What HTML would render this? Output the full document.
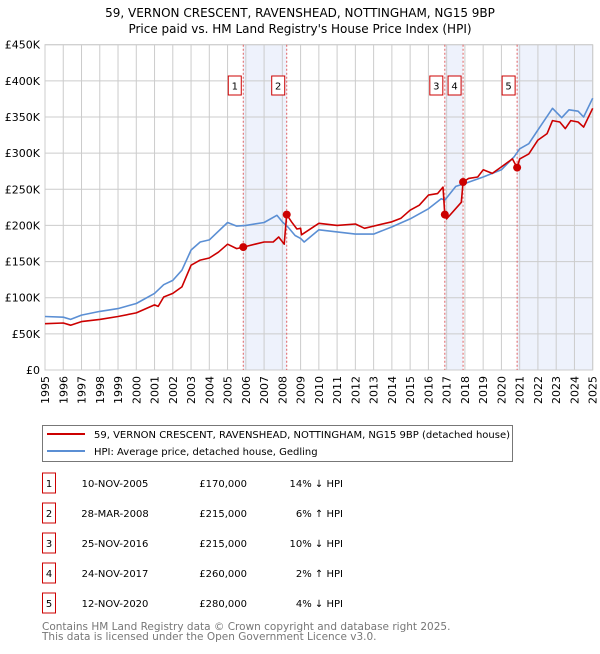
<!DOCTYPE html>
<html><head><meta charset="utf-8"><style>
body{margin:0;background:#fff;font-family:"DejaVu Sans","Liberation Sans",sans-serif;}
svg text{font-family:"DejaVu Sans","Liberation Sans",sans-serif;}
</style></head><body>
<svg id="c" width="600" height="650" xmlns="http://www.w3.org/2000/svg">
<text x="300" y="17" text-anchor="middle" font-size="12">59, VERNON CRESCENT, RAVENSHEAD, NOTTINGHAM, NG15 9BP</text>
<text x="300" y="33" text-anchor="middle" font-size="12">Price paid vs. HM Land Registry's House Price Index (HPI)</text>
<g id="plot"></g>
<g>
<rect x="42.5" y="425.5" width="470" height="36" fill="#fff" stroke="#777"/>
<line x1="47" y1="434" x2="85" y2="434" stroke="#cc0000" stroke-width="2"/>
<text x="94" y="438" font-size="10">59, VERNON CRESCENT, RAVENSHEAD, NOTTINGHAM, NG15 9BP (detached house)</text>
<line x1="47" y1="451" x2="85" y2="451" stroke="#5b8fd4" stroke-width="2"/>
<text x="94" y="455" font-size="10">HPI: Average price, detached house, Gedling</text>
</g>
<g id="table" font-size="10"></g>
<text x="42" y="630" font-size="10.5" fill="#777">Contains HM Land Registry data © Crown copyright and database right 2025.</text>
<text x="42" y="640" font-size="10.5" fill="#777">This data is licensed under the Open Government Licence v3.0.</text>
</svg>
<script>
const hpiYears=[1995,1996,1996.4,1997,1998,1999,2000,2001,2001.5,2002,2002.5,2003,2003.5,2004,2005,2005.5,2006,2007,2007.7,2008,2008.3,2008.7,2009,2009.2,2010,2011,2012,2013,2014,2015,2016,2016.7,2016.9,2017.5,2018,2019,2020,2020.7,2021,2021.5,2022,2022.8,2023.3,2023.7,2024.2,2024.5,2025];
const hpiValues=[74,73,70,76,81,85,92,106,118,124,138,166,177,180,204,199,200,204,214,205,198,186,182,177,194,191,188,188,198,209,223,237,235,254,258,267,277,295,306,313,332,362,349,360,358,350,376];
const redYears=[1995,1996,1996.4,1997,1998,1999,2000,2001,2001.2,2001.5,2002,2002.5,2003,2003.5,2004,2004.5,2005,2005.5,2005.86,2006.5,2007,2007.5,2007.8,2008.1,2008.24,2008.5,2008.8,2009,2009.05,2010,2011,2012,2012.5,2013,2014,2014.5,2015,2015.5,2016,2016.5,2016.8,2016.9,2017,2017.8,2017.9,2018.2,2018.7,2019,2019.5,2020,2020.6,2020.86,2021,2021.5,2022,2022.5,2022.8,2023.2,2023.5,2023.8,2024.2,2024.5,2025];
const redValues=[64,65,62,67,70,74,79,90,88,101,106,115,145,152,155,163,174,168,170,174,177,177,184,174,215,205,195,196,187,203,200,202,196,199,205,210,221,228,242,244,253,215,209,232,260,265,267,277,272,281,292,280,292,299,318,327,345,343,334,345,343,336,362];
const saleLabels=["1","2","3","4","5"];
const saleYears=[2005.86,2008.24,2016.9,2017.9,2020.86];
const salePrices=[170,215,215,260,280];
const saleDates=["10-NOV-2005","28-MAR-2008","25-NOV-2016","24-NOV-2017","12-NOV-2020"];
const salePriceText=["£170,000","£215,000","£215,000","£260,000","£280,000"];
const saleHpiText=["14% ↓ HPI","6% ↑ HPI","10% ↓ HPI","2% ↑ HPI","4% ↓ HPI"];
const yTicks=[0,50,100,150,200,250,300,350,400,450];
const yTickLabels=["£0","£50K","£100K","£150K","£200K","£250K","£300K","£350K","£400K","£450K"];
const xTicks=[1995,1996,1997,1998,1999,2000,2001,2002,2003,2004,2005,2006,2007,2008,2009,2010,2011,2012,2013,2014,2015,2016,2017,2018,2019,2020,2021,2022,2023,2024,2025];

const NS="http://www.w3.org/2000/svg";
const X0=45,X1=592.7,Y0=370,Y1=44.7;
const xs=y=>X0+(y-1995)/30*(X1-X0);
const ys=v=>Y0-v/450*(Y0-Y1);
const plot=document.getElementById('plot');
function mk(tag,attrs,parent){const e=document.createElementNS(NS,tag);for(const k in attrs)e.setAttribute(k,attrs[k]);(parent||plot).appendChild(e);return e;}

// shading
const shades=[[0,1],[2,3],[4,null]];
shades.forEach((s,i)=>{
  const a=xs(saleYears[s[0]]),b=s[1]===null?X1:xs(saleYears[s[1]]);
  const r=mk('rect',{x:a,y:Y1,width:b-a,height:Y0-Y1,fill:'#eef2fc'});
  
  
});
// grid
yTicks.forEach((t,i)=>{
  const l=mk('line',{x1:X0,x2:X1,y1:ys(t),y2:ys(t),stroke:'#ccc','stroke-width':1});
  
  
  const tx=mk('text',{x:X0-5,y:ys(t)+4,'text-anchor':'end','font-size':11});
  
  
  tx.textContent=yTickLabels[i];
});
xTicks.forEach(t=>{
  const l=mk('line',{x1:xs(t),x2:xs(t),y1:Y1,y2:Y0,stroke:'#ccc','stroke-width':1});
  
  
  const tx=mk('text',{x:0,y:0,'text-anchor':'end','font-size':11,transform:`translate(${xs(t)+4},${Y0+6}) rotate(-90)`});
  
  
  tx.textContent=t;
});
const bx=mk('rect',{x:X0,y:Y1,width:X1-X0,height:Y0-Y1,fill:'none',stroke:'#ccc'});


// sale vlines and labels
saleYears.forEach((y,i)=>{
  const l=mk('line',{x1:xs(y),x2:xs(y),y1:Y1,y2:Y0,stroke:'#e06060','stroke-dasharray':'2,2','stroke-width':1});
  
  
  const bw=13,bxp=xs(y)-bw-2;
  const r=mk('rect',{x:bxp,y:76,width:bw,height:19,fill:'#fff',stroke:'#cc0000'});
  
  
  const t=mk('text',{x:bxp+bw/2,y:89.5,'text-anchor':'middle','font-size':10});
  
  
  t.textContent=saleLabels[i];
});
function path(xa,va,color,name){
  const d=xa.map((y,i)=>(i?'L':'M')+xs(y).toFixed(1)+','+ys(va[i]).toFixed(1)).join('');
  const p=mk('path',{d:d,fill:'none',stroke:color,'stroke-width':1.6,'stroke-linejoin':'round'});
  
  
}
path(hpiYears,hpiValues,'#5b8fd4','hpi-line');
path(redYears,redValues,'#cc0000','property-price-line');
saleYears.forEach((y,i)=>{
  const c=mk('circle',{cx:xs(y),cy:ys(salePrices[i]),r:4,fill:'#cc0000'});
  
  
});
// table
const tb=document.getElementById('table');
saleLabels.forEach((s,i)=>{
  const cy=483+i*30;
  const g=mk('g',{},tb);
  
  
  mk('rect',{x:42.5,y:cy-10,width:13,height:20,fill:'#fff',stroke:'#cc0000'},g);
  const a=mk('text',{x:49,y:cy+4,'text-anchor':'middle'},g);a.textContent=s;
  const b=mk('text',{x:115,y:cy+4,'text-anchor':'middle'},g);b.textContent=saleDates[i];
  const c=mk('text',{x:247,y:cy+4,'text-anchor':'end'},g);c.textContent=salePriceText[i];
  const d=mk('text',{x:343,y:cy+4,'text-anchor':'end'},g);d.textContent=saleHpiText[i];
});
</script>
</body></html>
